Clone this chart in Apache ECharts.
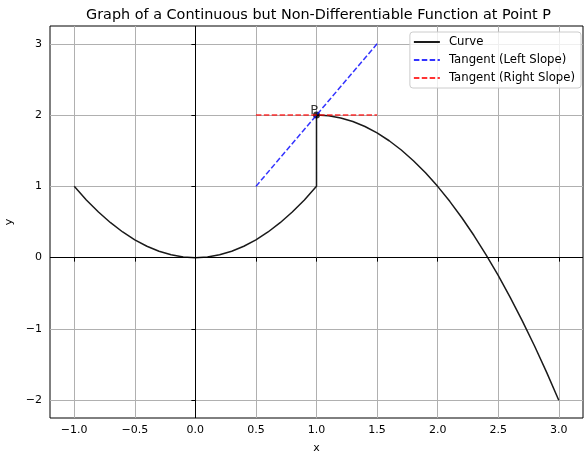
<!DOCTYPE html>
<html>
<head>
<meta charset="utf-8">
<script src="https://cdn.jsdelivr.net/npm/echarts@6/dist/echarts.min.js"></script>
<style>
  html, body { margin: 0; padding: 0; background: #fff; }
  #chart { width: 584px; height: 453px; }
</style>
</head>
<body>
<div id="chart"></div>
<script>
// values
var leftX  = [-1.0, -0.9, -0.8, -0.7, -0.6, -0.5, -0.4, -0.3, -0.2, -0.1, 0.0, 0.1, 0.2, 0.3, 0.4, 0.5, 0.6, 0.7, 0.8, 0.9, 1.0];
var leftY  = [1.0, 0.81, 0.64, 0.49, 0.36, 0.25, 0.16, 0.09, 0.04, 0.01, 0.0, 0.01, 0.04, 0.09, 0.16, 0.25, 0.36, 0.49, 0.64, 0.81, 1.0];
var rightX = [1.0, 1.1, 1.2, 1.3, 1.4, 1.5, 1.6, 1.7, 1.8, 1.9, 2.0, 2.1, 2.2, 2.3, 2.4, 2.5, 2.6, 2.7, 2.8, 2.9, 3.0];
var rightY = [2.0, 1.99, 1.96, 1.91, 1.84, 1.75, 1.64, 1.51, 1.36, 1.19, 1.0, 0.79, 0.56, 0.31, 0.04, -0.25, -0.56, -0.89, -1.24, -1.61, -2.0];
var tanLeftX  = [0.5, 1.5];
var tanLeftY  = [1.0, 3.0];
var tanRightX = [0.5, 1.5];
var tanRightY = [2.0, 2.0];
var pointP = [1.0, 2.0];
var xTicks = [-1.0, -0.5, 0.0, 0.5, 1.0, 1.5, 2.0, 2.5, 3.0];
var yTicks = [-2, -1, 0, 1, 2, 3];

var curveData = [];
leftX.forEach(function (x, i) { curveData.push([x, leftY[i]]); });
rightX.forEach(function (x, i) { curveData.push([x, rightY[i]]); });
var tanLeftData = tanLeftX.map(function (x, i) { return [x, tanLeftY[i]]; });
var tanRightData = tanRightX.map(function (x, i) { return [x, tanRightY[i]]; });

function minus(s) { return s.replace('-', '\u2212'); }

var myChart = echarts.init(document.getElementById('chart'));
var font = 'DejaVu Sans';
var option = {
  backgroundColor: '#fff',
  animation: false,
  textStyle: { fontFamily: font },
  title: {
    text: 'Graph of a Continuous but Non-Differentiable Function at Point P',
    left: 81,
    top: 3,
    textStyle: { fontFamily: font, fontSize: 14.4, fontWeight: 'normal', color: '#000' }
  },
  grid: {
    left: 50, right: 1, top: 26, bottom: 35,
    outerBoundsMode: 'none',
    containLabel: false,
    show: true, borderColor: '#000', borderWidth: 1, backgroundColor: 'transparent'
  },
  legend: {
    data: ['Curve', 'Tangent (Left Slope)', 'Tangent (Right Slope)'],
    orient: 'vertical',
    right: 3,
    top: 32,
    itemWidth: 26,
    itemHeight: 11,
    itemGap: 6,
    padding: [4, 6, 4, 3],
    backgroundColor: 'rgba(255,255,255,0.8)',
    borderColor: '#ccc',
    borderWidth: 1,
    borderRadius: 3,
    itemStyle: { opacity: 0 },
    textStyle: { fontFamily: font, fontSize: 11.7, color: '#000', padding: [0, 0, 0, 4] }
  },
  xAxis: {
    type: 'value',
    min: -1.2, max: 3.2,
    name: 'x', nameLocation: 'middle', nameGap: 25,
    nameTextStyle: { fontFamily: font, fontSize: 11, color: '#000' },
    axisLine: { show: false },
    axisTick: { show: true, length: 4, customValues: xTicks, lineStyle: { color: '#000' } },
    axisLabel: {
      customValues: xTicks, margin: 7,
      fontFamily: font, fontSize: 11, color: '#000',
      formatter: function (v) { return minus(v.toFixed(1)); }
    },
    splitLine: { show: true, customValues: xTicks, lineStyle: { color: '#b0b0b0', width: 1 } }
  },
  yAxis: {
    type: 'value',
    min: -2.25, max: 3.25,
    name: 'y', nameLocation: 'middle', nameGap: 33, nameRotate: 90,
    nameTextStyle: { fontFamily: font, fontSize: 11, color: '#000' },
    axisLine: { show: false },
    axisTick: { show: true, length: 4, customValues: yTicks, lineStyle: { color: '#000' } },
    axisLabel: {
      customValues: yTicks, margin: 8,
      fontFamily: font, fontSize: 11, color: '#000',
      formatter: function (v) { return minus(String(v)); }
    },
    splitLine: { show: true, customValues: yTicks, lineStyle: { color: '#b0b0b0', width: 1 } }
  },
  series: [
    {
      name: 'Curve',
      type: 'line',
      data: curveData,
      symbol: 'none',
      z: 3,
      color: '#1a1a1a',
      lineStyle: { color: '#1a1a1a', width: 1.5 },
      markLine: {
        silent: true,
        symbol: 'none',
        label: { show: false },
        lineStyle: { color: '#000', width: 1, type: 'solid' },
        data: [{ xAxis: 0 }, { yAxis: 0 }]
      }
    },
    {
      name: 'Tangent (Left Slope)',
      type: 'line',
      data: tanLeftData,
      symbol: 'none',
      z: 5,
      color: 'rgba(0,0,255,0.8)',
      lineStyle: { color: 'rgba(0,0,255,0.8)', width: 1.5, type: [5.5, 2.4] }
    },
    {
      name: 'Tangent (Right Slope)',
      type: 'line',
      data: tanRightData,
      symbol: 'none',
      z: 5,
      color: 'rgba(255,0,0,0.8)',
      lineStyle: { color: 'rgba(255,0,0,0.8)', width: 1.5, type: [5.5, 2.4] }
    },
    {
      name: 'P',
      type: 'scatter',
      data: [pointP],
      symbolSize: 7,
      z: 4,
      itemStyle: { color: '#000' },
      label: {
        show: true,
        formatter: 'P',
        position: 'left',
        offset: [10, -4],
        fontFamily: font,
        fontSize: 13,
        color: '#000'
      }
    }
  ]
};
option && myChart.setOption(option);
</script>
</body>
</html>
